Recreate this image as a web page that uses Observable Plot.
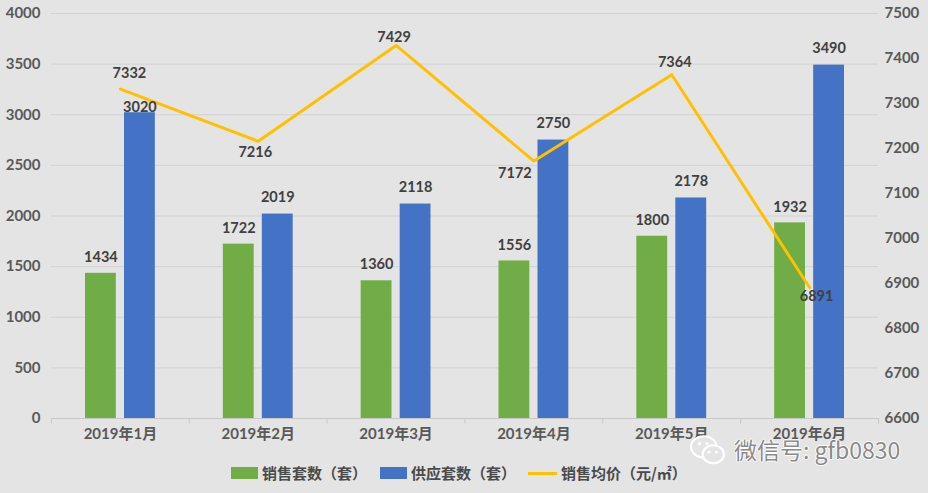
<!DOCTYPE html>
<html>
<head>
<meta charset="utf-8">
<script src="https://cdn.jsdelivr.net/npm/d3@7"></script>
<script src="https://cdn.jsdelivr.net/npm/@observablehq/plot@0.6"></script>
<style>
  html, body { margin: 0; background: #e4e4e4; }
  #wrap { position: relative; width: 928px; height: 493px; overflow: hidden; background: #e4e4e4; font-family: "Noto Sans CJK SC", sans-serif; }
  #chart svg { display: block; }
  .lg { position: absolute; top: 462px; font-size: 15px; font-weight: 700; color: #4a4a4a; line-height: 22px; white-space: nowrap; }
  .sw { position: absolute; }
  #mark { position: absolute; left: 734px; top: 433px; font-size: 23px; color: #8a8a8a; white-space: nowrap; line-height: 32px;
    text-shadow: 1px 0 0 #fff, -1px 0 0 #fff, 0 1px 0 #fff, 0 -1px 0 #fff; }
</style>
</head>
<body>
<div id="wrap">
  <div id="chart"></div>
  <div class="sw" style="left:231px;top:467px;width:27px;height:12px;background:#70ad47"></div>
  <div class="lg" style="left:262px">销售套数（套）</div>
  <div class="sw" style="left:380px;top:467px;width:27px;height:12px;background:#4472c4"></div>
  <div class="lg" style="left:411px">供应套数（套）</div>
  <div class="sw" style="left:528px;top:472px;width:29px;height:3px;background:#ffc000"></div>
  <div class="lg" style="left:561px">销售均价（元/㎡）</div>
  <svg style="position:absolute;left:688px;top:433px" width="40" height="34" viewBox="0 0 36 32">
    <ellipse cx="14" cy="13" rx="12" ry="10" fill="#e4e4e4" stroke="#fff" stroke-width="2"/>
    <ellipse cx="23" cy="20" rx="10" ry="8.5" fill="#e4e4e4" stroke="#fff" stroke-width="2"/>
    <circle cx="19" cy="18" r="1.4" fill="#fff"/><circle cx="26" cy="18" r="1.4" fill="#fff"/>
    <circle cx="10" cy="10" r="1.6" fill="#fff"/><circle cx="17" cy="10" r="1.6" fill="#fff"/>
  </svg>
  <div id="mark">微信号: gfb0830</div>
</div>
<script>
const months = ["2019年1月", "2019年2月", "2019年3月", "2019年4月", "2019年5月", "2019年6月"];
const sold = [1434, 1722, 1360, 1556, 1800, 1932];
const supply = [3020, 2019, 2118, 2750, 2178, 3490];
const price = [7332, 7216, 7429, 7172, 7364, 6891];
const leftTicks = [0, 500, 1000, 1500, 2000, 2500, 3000, 3500, 4000];
const rightTicks = [6600, 6700, 6800, 6900, 7000, 7100, 7200, 7300, 7400, 7500];

// right axis is just mapped onto the left one
const priceToY = d3.scaleLinear([6600, 7500], [0, 4000]);

const rows = months.map((m, i) => ({month: m, sold: sold[i], supply: supply[i], price: priceToY(price[i]), priceLabel: String(price[i])}));

const barGap = 19.5;
const inset = 53.5;
const labelStyle = {fontSize: 14.5, fontWeight: "bold", fill: "#404040"};

// label offsets for the price line, one per month
const priceNudge = [[9, -16], [-3, 11], [-2, -8], [-19, 12], [3, -12], [7, 9]];

const chart = Plot.plot({
  width: 928,
  height: 443,
  marginLeft: 51,
  marginRight: 50,
  marginTop: 13,
  marginBottom: 25,
  style: {background: "transparent", fontFamily: "Lato, 'Noto Sans CJK SC', sans-serif"},
  x: {domain: months, padding: 0, round: false, label: null},
  y: {domain: [0, 4000], label: null},
  marks: [
    Plot.ruleY(leftTicks.slice(1), {stroke: "#d2d2d2", strokeWidth: 1}),
    Plot.barY(rows, {x: "month", y: "sold", fill: "#70ad47", dx: -barGap, insetLeft: inset, insetRight: inset}),
    Plot.barY(rows, {x: "month", y: "supply", fill: "#4472c4", dx: barGap, insetLeft: inset, insetRight: inset}),
    Plot.ruleY([0], {stroke: "#c8c8c8"}),
    Plot.ruleX(rows, {x: "month", y1: 0, y2: -55, dx: -69, stroke: "#c8c8c8"}),
    Plot.ruleX(rows.slice(-1), {x: "month", y1: 0, y2: -55, dx: 69, stroke: "#c8c8c8"}),
    Plot.line(rows, {x: "month", y: "price", stroke: "#ffc000", strokeWidth: 3, curve: "linear"}),
    Plot.text(rows, {x: "month", y: "sold", text: d => String(d.sold), dx: -barGap, dy: -16, ...labelStyle}),
    Plot.text(rows.filter(d => d.supply !== 3020), {x: "month", y: "supply", text: d => String(d.supply), dx: barGap, dy: -17, ...labelStyle}),
    Plot.text(rows.filter(d => d.supply === 3020), {x: "month", y: "supply", text: d => String(d.supply), dx: barGap, dy: -5, ...labelStyle}),
    ...rows.map((d, i) => Plot.text([d], {x: "month", y: "price", text: "priceLabel", dx: priceNudge[i][0], dy: priceNudge[i][1], ...labelStyle})),
    Plot.axisY(leftTicks, {anchor: "left", tickSize: 0, tickPadding: 11, label: null, fontSize: 15, fontWeight: "bold", color: "#595959", tickFormat: d => String(d)}),
    Plot.axisY(rightTicks.map(priceToY), {anchor: "right", tickSize: 0, tickPadding: 6, label: null, fontSize: 15, fontWeight: "bold", color: "#595959", tickFormat: v => String(Math.round(priceToY.invert(v)))}),
    Plot.axisX(months, {anchor: "bottom", tickSize: 0, tickPadding: 10, label: null, fontSize: 15, fontWeight: "bold", color: "#595959"})
  ]
});
d3.select("#chart").append(() => chart);
</script>
</body>
</html>
